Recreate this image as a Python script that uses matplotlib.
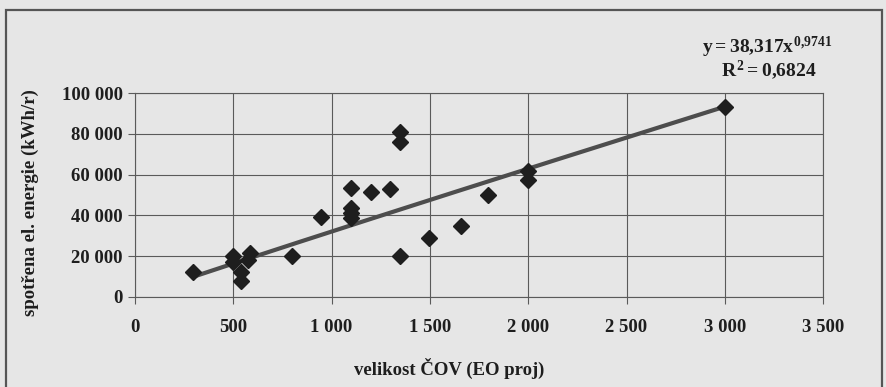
import numpy as np
import matplotlib.pyplot as plt
import matplotlib.patches as patches

# velikost COV (EO proj) vs spotrebovana energie (kWh/r)
velikost = [296, 496, 500, 541, 541, 575, 584, 798, 944, 1100, 1100, 1100, 1100,
            1201, 1298, 1349, 1349, 1349, 1493, 1658, 1794, 1997, 1997, 3000]
spotreba = [12300, 20000, 17200, 12300, 7900, 18000, 21600, 20200, 39000, 53300, 43500, 41000, 38600,
            51600, 52800, 80800, 76200, 20200, 29000, 34800, 50000, 62000, 57600, 93400]

# power trendline y = a * x^b from the chart
trend_a = 38.317
trend_b = 0.9741

x_ticks = [0, 500, 1000, 1500, 2000, 2500, 3000, 3500]
y_ticks = [0, 20000, 40000, 60000, 80000, 100000]

def fmt(v):
    return f"{v:,}".replace(",", " ")

plt.rcParams['font.family'] = 'Liberation Serif'
plt.rcParams['font.weight'] = 'bold'
plt.rcParams['mathtext.fontset'] = 'custom'
plt.rcParams['mathtext.rm'] = 'Liberation Serif:bold'
plt.rcParams['mathtext.it'] = 'Liberation Serif:bold'
plt.rcParams['mathtext.bf'] = 'Liberation Serif:bold'

bg = '#e6e6e6'
grid_c = '#5a5a5a'
txt_c = '#1e1e1e'
fs = 13.5

fig = plt.figure(figsize=(8.87, 3.87), dpi=100, facecolor=bg)
ax = fig.add_axes([0.1522, 0.2333, 0.7758, 0.5257])
ax.set_facecolor(bg)

# outer frame of the chart
frame = patches.Rectangle((6 / 887, -0.05), 876 / 887, 1 - 10 / 387 + 0.05,
                          transform=fig.transFigure, fill=False,
                          edgecolor='#555555', linewidth=1.6, clip_on=False)
fig.add_artist(frame)

# trendline
xt = np.linspace(min(velikost), max(velikost), 200)
ax.plot(xt, trend_a * xt ** trend_b, color='#4d4d4d', linewidth=3, zorder=2)

ax.plot(velikost, spotreba, linestyle='none', marker='D', markersize=8,
        color='#1e1e1e', zorder=3)

ax.set_xlim(0, 3500)
ax.set_ylim(0, 100000)
ax.set_xticks(x_ticks)
ax.set_yticks(y_ticks)
ax.set_xticklabels([fmt(v) for v in x_ticks], fontsize=fs, fontweight='bold')
ax.set_yticklabels([fmt(v) for v in y_ticks], fontsize=fs, fontweight='bold')
ax.tick_params(axis='both', direction='out', length=5, color=grid_c, width=0.8,
               colors=txt_c)
ax.tick_params(axis='x', pad=11)
ax.tick_params(axis='y', pad=4)
ax.grid(True, color=grid_c, linewidth=0.8)
for s in ax.spines.values():
    s.set_color(grid_c)
    s.set_linewidth(0.8)

fig.text(449 / 887, 1 - 368 / 387, 'velikost ČOV (EO proj)', ha='center', va='center',
         fontsize=fs, fontweight='bold', color=txt_c)
fig.text(30 / 887, 1 - 203 / 387, 'spotřena el. energie (kWh/r)', rotation=90,
         ha='center', va='center', fontsize=fs, fontweight='bold', color=txt_c)

fig.text(767 / 887, 1 - 47 / 387, r'$y = 38{,}317x^{0{,}9741}$', ha='center', va='center',
         fontsize=14, color=txt_c)
fig.text(769 / 887, 1 - 70 / 387, r'$R^2 = 0{,}6824$', ha='center', va='center',
         fontsize=14, color=txt_c)

fig.savefig('out.png', dpi=100, facecolor=bg)
